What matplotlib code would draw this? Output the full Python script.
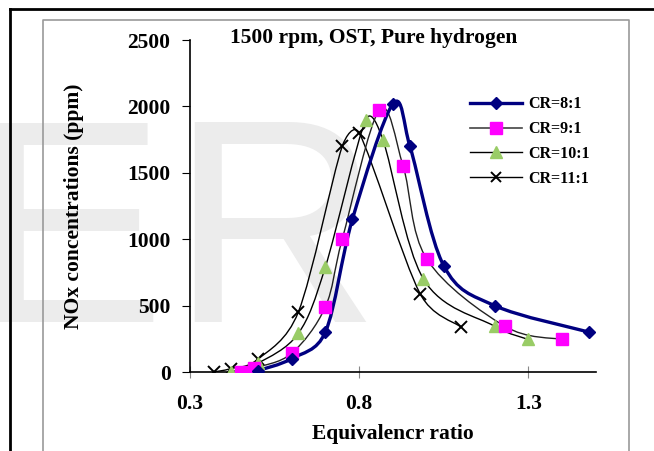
import numpy as np
import matplotlib
matplotlib.use("Agg")
import matplotlib.pyplot as plt
from matplotlib.path import Path
from matplotlib.patches import PathPatch
from matplotlib.lines import Line2D

plt.rcParams['font.family'] = ['Liberation Serif', 'DejaVu Serif']
plt.rcParams['font.weight'] = 'bold'

# data
x_cr8 = [0.50, 0.60, 0.70, 0.78, 0.90, 0.95, 1.05, 1.20, 1.48]
y_cr8 = [10, 100, 300, 1150, 2020, 1700, 800, 500, 300]

x_cr9 = [0.45, 0.49, 0.60, 0.70, 0.75, 0.86, 0.93, 1.00, 1.23, 1.40]
y_cr9 = [0, 30, 140, 490, 1000, 1975, 1550, 850, 345, 245]

x_cr10 = [0.42, 0.50, 0.62, 0.70, 0.82, 0.87, 0.99, 1.20, 1.30]
y_cr10 = [0, 65, 290, 790, 1900, 1750, 700, 345, 245]

x_cr11 = [0.37, 0.42, 0.50, 0.62, 0.75, 0.80, 0.98, 1.10]
y_cr11 = [0, 25, 95, 450, 1700, 1800, 590, 340]

labels = ["CR=8:1", "CR=9:1", "CR=10:1", "CR=11:1"]
yticks = [0, 500, 1000, 1500, 2000, 2500]
xticks = [0.3, 0.8, 1.3]

W, H = 654, 451
fig = plt.figure(figsize=(W / 100, H / 100), dpi=100)

# faint watermark behind everything
wm = dict(fontsize=208, color="#ececec", family="Liberation Sans", fontweight="normal",
          ha="left", va="baseline", zorder=-5)
fig.text(-28 / W, 1 - 322 / H, "E", **wm)
fig.text(170 / W, 1 - 322 / H, "R", **wm)

# frames
fig.add_artist(Line2D([10 / W, 10 / W], [0, 1 - 9 / H], color="black", lw=2,
                      transform=fig.transFigure))
fig.add_artist(Line2D([10 / W, 1], [1 - 9 / H, 1 - 9 / H], color="black", lw=2,
                      transform=fig.transFigure))
fig.add_artist(Line2D([43 / W, 43 / W, 629 / W, 629 / W], [0, 1 - 20 / H, 1 - 20 / H, 0],
                      color="#9a9a9a", lw=1.2, transform=fig.transFigure))

ax = fig.add_axes([190 / W, 79 / H, 406 / W, 332 / H])
ax.set_facecolor("none")
ax.set_xlim(0.3, 1.5)
ax.set_ylim(0, 2500)
ax.set_xticks(xticks)
ax.set_yticks(yticks)
ax.set_xticklabels(["0.3", "0.8", "1.3"])
ax.tick_params(labelsize=15.5)
ax.tick_params(axis="y", length=6, pad=8)
ax.tick_params(axis="x", pad=12, direction="inout", length=8, color="#888888")
ax.spines["top"].set_visible(False)
ax.spines["right"].set_visible(False)
for s in ["left", "bottom"]:
    ax.spines[s].set_linewidth(1.2)
for t in ax.get_xticklabels() + ax.get_yticklabels():
    t.set_fontweight("bold")

ax.set_xlabel("Equivalencr ratio", fontsize=15.5, fontweight="bold", labelpad=7)
ax.set_ylabel("NOx concentrations (ppm)", fontsize=15.5, fontweight="bold", labelpad=31)
ax.text(0.452, 1.005, "1500 rpm, OST, Pure hydrogen", transform=ax.transAxes,
        ha="center", va="center", fontsize=15.5, fontweight="bold")


def ctrl_len(pa, pb, seg):
    # Excel-like tangent: 1/6 of neighbour span, capped at half the segment
    d = np.hypot(*(pb - pa))
    if d == 0:
        return np.zeros(2)
    f = 1 / 6.0
    if d / 6.0 > seg / 2.0:
        f = seg / (2.0 * d)
    return (pb - pa) * f


def smooth(ax, xs, ys, color, lw):
    # smoothed line drawn as cubic bezier through the points
    pts = ax.transData.transform(np.column_stack([xs, ys]))
    n = len(pts)
    verts = [pts[0]]
    codes = [Path.MOVETO]
    for i in range(n - 1):
        p0 = pts[i - 1] if i > 0 else pts[i]
        p1 = pts[i]
        p2 = pts[i + 1]
        p3 = pts[i + 2] if i + 2 < n else pts[i + 1]
        seg = np.hypot(*(p2 - p1))
        c1 = p1 + ctrl_len(p0, p2, seg)
        c2 = p2 - ctrl_len(p1, p3, seg)
        verts += [c1, c2, p2]
        codes += [Path.CURVE4] * 3
    verts = ax.transData.inverted().transform(np.array(verts))
    ax.add_patch(PathPatch(Path(verts, codes), facecolor="none", edgecolor=color,
                           lw=lw, transform=ax.transData, zorder=2))


smooth(ax, x_cr11, y_cr11, "black", 1.0)
smooth(ax, x_cr10, y_cr10, "black", 1.0)
smooth(ax, x_cr9, y_cr9, "#222222", 1.0)
smooth(ax, x_cr8, y_cr8, "#000080", 2.4)

ax.plot(x_cr11, y_cr11, ls="none", marker="x", ms=9, mew=1.4, color="black", zorder=3)
ax.plot(x_cr10, y_cr10, ls="none", marker="^", ms=8, color="#99cc66", zorder=3)
ax.plot(x_cr9, y_cr9, ls="none", marker="s", ms=8, color="#ff00ff", zorder=3)
ax.plot(x_cr8, y_cr8, ls="none", marker="D", ms=6, color="#000080", zorder=4)

handles = [
    Line2D([], [], color="#000080", lw=2.4, marker="D", ms=6),
    Line2D([], [], color="#444444", lw=1.2, marker="s", ms=8, mfc="#ff00ff", mec="#ff00ff"),
    Line2D([], [], color="black", lw=1.0, marker="^", ms=8, mfc="#99cc66", mec="#99cc66"),
    Line2D([], [], color="black", lw=1.0, marker="x", ms=7, mew=1.4),
]
ax.legend(handles, labels, loc="upper left", bbox_to_anchor=(0.69, 0.83), frameon=False,
          prop={"size": 11.5, "weight": "bold"}, handlelength=3.25, labelspacing=0.55,
          handletextpad=0.4, borderpad=0, borderaxespad=0)

fig.savefig("out.png", dpi=100)
